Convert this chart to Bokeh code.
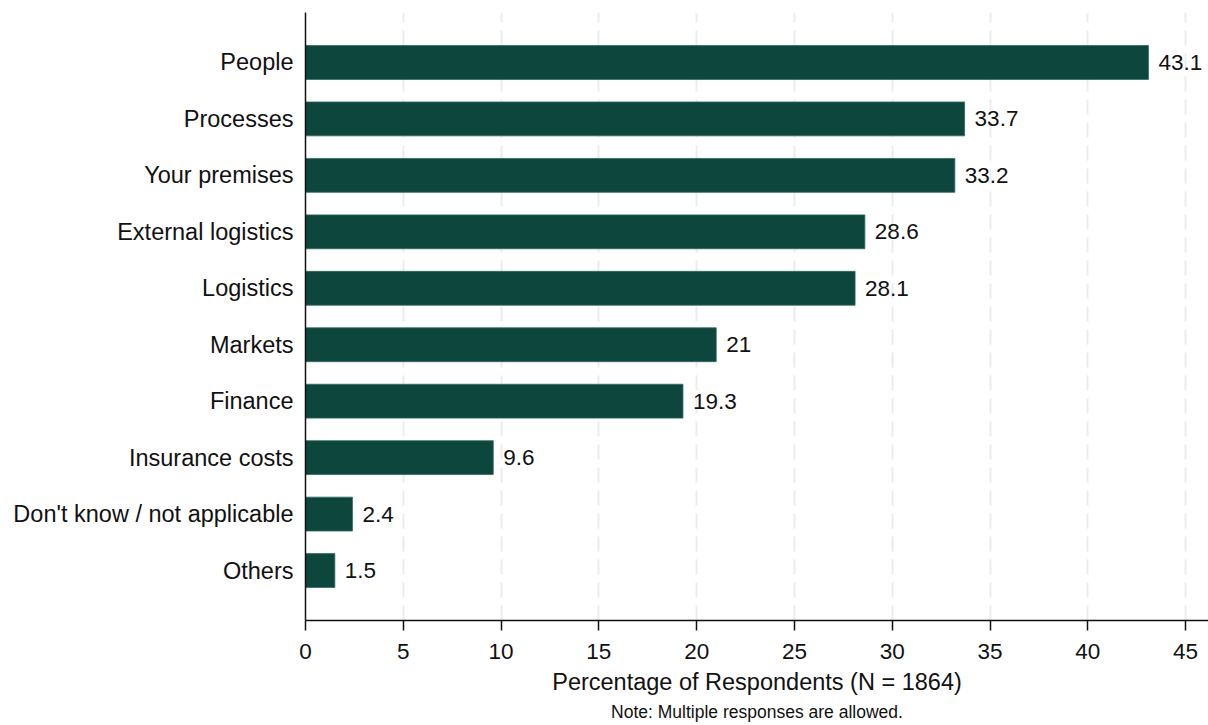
from bokeh.plotting import figure
from bokeh.models import ColumnDataSource, FactorRange, Range1d, Title, LabelSet, FixedTicker
from bokeh.core.properties import value
from bokeh.embed import file_html
from bokeh.resources import INLINE

# Survey responses, top to bottom
categories = [
    "People", "Processes", "Your premises", "External logistics", "Logistics",
    "Markets", "Finance", "Insurance costs", "Don't know / not applicable", "Others",
]
percentages = [43.1, 33.7, 33.2, 28.6, 28.1, 21.0, 19.3, 9.6, 2.4, 1.5]
value_labels = ["43.1", "33.7", "33.2", "28.6", "28.1", "21", "19.3", "9.6", "2.4", "1.5"]
x_ticks = [0, 5, 10, 15, 20, 25, 30, 35, 40, 45]

FONT = "Liberation Sans"
BAR = "#0c463d"
INK = "#111111"

source = ColumnDataSource(dict(cat=categories, val=percentages, lab=value_labels))

p = figure(
    width=1208, height=725,
    y_range=FactorRange(factors=categories[::-1], range_padding=0.385,
                        range_padding_units="absolute"),
    x_range=Range1d(0, 46.17),
    output_backend="svg", toolbar_location=None,
    min_border_left=305, min_border_right=0, min_border_top=12, min_border_bottom=105,
)
p.outline_line_color = None
p.background_fill_color = "white"

p.hbar(y="cat", right="val", left=0, height=0.6, source=source,
       fill_color=BAR, line_color="#2f6b60", line_width=0.8)

p.add_layout(LabelSet(x="val", y="cat", text="lab", source=source,
                      x_offset=10, text_baseline="middle",
                      text_font=value(FONT), text_font_size="22.5px", text_color=INK))

# Axes
p.xaxis.ticker = FixedTicker(ticks=x_ticks)
p.xaxis.axis_label = "Percentage of Respondents (N = 1864)"
p.xaxis.axis_label_text_font = FONT
p.xaxis.axis_label_text_font_size = "23.5px"
p.xaxis.axis_label_text_font_style = "normal"
p.xaxis.axis_label_text_color = INK
p.xaxis.axis_label_standoff = 7
p.xaxis.major_label_text_font = FONT
p.xaxis.major_label_text_font_size = "22.5px"
p.xaxis.major_label_text_color = INK
p.xaxis.major_label_standoff = 13
p.xaxis.major_tick_out = 10
p.xaxis.major_tick_in = 0
p.xaxis.minor_tick_line_color = None
p.xaxis.axis_line_color = INK
p.xaxis.axis_line_width = 1.5
p.xaxis.major_tick_line_color = INK
p.xaxis.major_tick_line_width = 1.5

p.yaxis.major_label_text_font = FONT
p.yaxis.major_label_text_font_size = "23.5px"
p.yaxis.major_label_text_color = INK
p.yaxis.major_label_standoff = 6
p.yaxis.major_tick_line_color = None
p.yaxis.minor_tick_line_color = None
p.yaxis.axis_line_color = INK
p.yaxis.axis_line_width = 1.5

# Grid
p.ygrid.grid_line_color = None
p.xgrid.grid_line_color = "#ececec"
p.xgrid.grid_line_width = 2
p.xgrid.grid_line_dash = "15 8"

p.add_layout(Title(text="Note: Multiple responses are allowed.", align="center",
                   text_font=FONT, text_font_size="17.5px", text_font_style="normal",
                   text_color=INK, standoff=4), "below")

open("out.html", "w").write(file_html(p, INLINE))
